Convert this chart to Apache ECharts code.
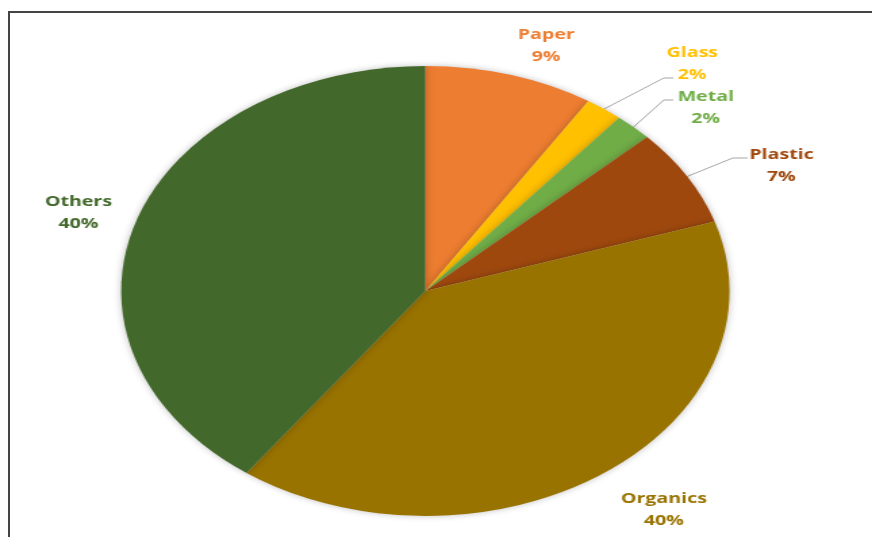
<!DOCTYPE html>
<html>
<head>
<meta charset="utf-8">
<script src="https://cdn.jsdelivr.net/npm/echarts@6/dist/echarts.min.js"></script>
<style>
  html, body { margin: 0; padding: 0; background: #fff; }
  body { width: 872px; height: 537px; position: relative; overflow: hidden; }
  #frame {
    position: absolute; left: 8px; top: 11px; right: 0; bottom: 0;
    border-top: 2px solid #444; border-left: 2px solid #444;
  }
  /* the reference pie is stretched sideways, so the chart is scaled the same way */
  #chart {
    position: absolute; left: 0; top: 0;
    width: 645px; height: 537px;
    transform: scaleX(1.352); transform-origin: 0 0;
  }
</style>
</head>
<body>
<div id="frame"></div>
<div id="chart"></div>
<script>
var categories = ['Paper', 'Glass', 'Metal', 'Plastic', 'Organics', 'Others'];
var shares = [9, 2, 2, 7, 40, 40];
var colors = ['#ED7D31', '#FFC000', '#70AD47', '#9E480E', '#997300', '#43682B'];
var withLine = [false, true, true, true, false, false];

// where each label sits (unscaled chart pixels) and where its leader line bends
var labelSpots = [
  [404, 46], [512, 64], [522, 108], [578, 166], [491, 510], [58, 213]
];
var lineBends = [
  null, [[491, 78], [498, 78]], [[491, 100], [498, 100]], [[542, 158], [553, 158]], null, null
];

var myChart = echarts.init(document.getElementById('chart'));

var data = categories.map(function (name, i) {
  return {
    name: name,
    value: shares[i],
    itemStyle: { color: colors[i] },
    label: { color: colors[i] },
    labelLine: { show: withLine[i] }
  };
});

var option = {
  animation: false,
  series: [
    {
      type: 'pie',
      center: [314.6, 291],
      radius: [0, 225],
      startAngle: 90,
      clockwise: true,
      avoidLabelOverlap: false,
      percentPrecision: 0,
      itemStyle: {
        borderWidth: 0,
        shadowBlur: 6,
        shadowColor: 'rgba(0,0,0,0.25)'
      },
      label: {
        show: true,
        position: 'outside',
        formatter: '{b}\n{d}%',
        fontFamily: 'Open Sans',
        fontWeight: 'bold',
        fontSize: 14.5,
        lineHeight: 22,
        align: 'center'
      },
      labelLine: {
        length: 10,
        length2: 10,
        lineStyle: { color: '#A6A6A6', width: 1 }
      },
      labelLayout: function (params) {
        var i = params.dataIndex;
        var out = {
          x: labelSpots[i][0],
          y: labelSpots[i][1],
          align: 'center',
          verticalAlign: 'middle'
        };
        if (lineBends[i] && params.labelLinePoints) {
          out.labelLinePoints = [params.labelLinePoints[0], lineBends[i][0], lineBends[i][1]];
        }
        return out;
      },
      emphasis: { disabled: true },
      data: data
    }
  ]
};
myChart.setOption(option);
</script>
</body>
</html>
